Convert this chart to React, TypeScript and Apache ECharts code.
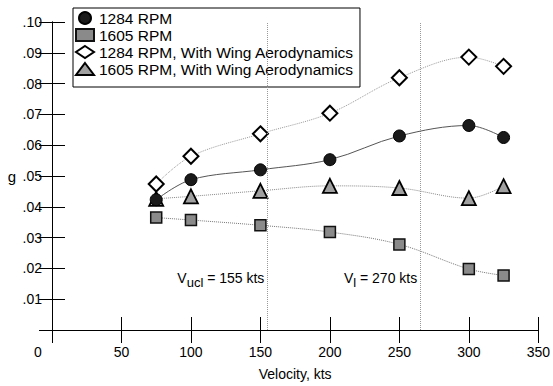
import React, { useEffect, useRef } from "react";
import * as echarts from "echarts";

const velocities = [75, 100, 150, 200, 250, 300, 325];
const rpm1284 = [0.0423, 0.0488, 0.052, 0.0553, 0.063, 0.0664, 0.0625];
const rpm1605 = [0.0365, 0.0357, 0.034, 0.0318, 0.0278, 0.0198, 0.0177];
const rpm1284Wing = [0.0474, 0.0564, 0.0637, 0.0704, 0.0819, 0.0886, 0.0856];
const rpm1605Wing = [0.0426, 0.0434, 0.0452, 0.0468, 0.0461, 0.0428, 0.0467];
const seriesNames = [
  "1284 RPM",
  "1605 RPM",
  "1284 RPM, With Wing Aerodynamics",
  "1605 RPM, With Wing Aerodynamics",
];
const refLines = [
  { x: 155, sub: "ucl", text: " = 155 kts" },
  { x: 265, sub: "l", text: " = 270 kts" },
];
const labelY = 0.0168;

const FONT = "'Liberation Sans', Arial, Helvetica, sans-serif";

export default function App() {
  const ref = useRef<HTMLDivElement>(null);
  useEffect(() => {
    if (!ref.current) return;
    const chart = echarts.init(ref.current, undefined, { renderer: "svg" });
    const pts = (arr: number[]) => velocities.map((v, i) => [v, arr[i]]);
    const axisLine = { show: true, lineStyle: { color: "#000", width: 1 } };
    const tick = { show: true, inside: true, length: 13, lineStyle: { color: "#000", width: 1 } };
    const option: any = {
      animation: false,
      backgroundColor: "#fff",
      textStyle: { fontFamily: FONT },
      grid: { left: 52, right: 12, top: 22, bottom: 54, containLabel: false },
      legend: {
        orient: "vertical",
        left: 73,
        top: 8,
        padding: [2, 6, 10, 2],
        itemGap: 1,
        itemWidth: 18,
        itemHeight: 12,
        backgroundColor: "#fff",
        borderColor: "#000",
        borderWidth: 1,
        borderRadius: 0,
        textStyle: { fontSize: 15.5, color: "#000", fontFamily: FONT, lineHeight: 16 },
        data: [
          { name: seriesNames[0], icon: "circle" },
          { name: seriesNames[1], icon: "rect" },
          { name: seriesNames[2], icon: "diamond" },
          { name: seriesNames[3], icon: "triangle" },
        ],
      },
      xAxis: [
        {
          type: "value",
          position: "bottom",
          min: 0,
          max: 350,
          interval: 50,
          axisLine,
          axisTick: tick,
          splitLine: { show: false },
          name: "Velocity, kts",
          nameLocation: "middle",
          nameGap: 37,
          nameTextStyle: { fontSize: 14, color: "#000", fontFamily: FONT },
          axisLabel: {
            fontSize: 14,
            color: "#000",
            fontFamily: FONT,
            margin: 15,
            formatter: (v: number) => (v === 0 ? "{z|0}" : String(v)),
            rich: { z: { fontSize: 14, color: "#000", fontFamily: FONT, padding: [0, 28, 0, 0] } },
          },
        },
        {
          type: "value",
          position: "top",
          min: 0,
          max: 350,
          interval: 50,
          axisLine,
          axisTick: tick,
          axisLabel: { show: false },
          splitLine: { show: false },
        },
      ],
      yAxis: [
        {
          type: "value",
          position: "left",
          min: 0,
          max: 0.1,
          interval: 0.01,
          axisLine,
          axisTick: tick,
          splitLine: { show: false },
          name: "g",
          nameLocation: "middle",
          nameRotate: 0,
          nameGap: 36,
          nameTextStyle: { fontSize: 15, color: "#000", fontFamily: FONT },
          axisLabel: {
            fontSize: 14,
            color: "#000",
            fontFamily: FONT,
            margin: 10,
            formatter: (v: number) => (v < 0.001 ? "" : "." + Math.round(v * 100).toString().padStart(2, "0")),
          },
        },
        {
          type: "value",
          position: "right",
          min: 0,
          max: 0.1,
          interval: 0.01,
          axisLine,
          axisTick: tick,
          axisLabel: { show: false },
          splitLine: { show: false },
        },
      ],
      series: [
        {
          name: seriesNames[0],
          type: "line",
          data: pts(rpm1284),
          smooth: 0.35,
          symbol: "circle",
          symbolSize: 12,
          itemStyle: { color: "#1a1a1a", borderColor: "#000", borderWidth: 1 },
          lineStyle: { color: "#555", width: 1, type: "solid" },
          z: 5,
        },
        {
          name: seriesNames[1],
          type: "line",
          data: pts(rpm1605),
          smooth: 0.35,
          symbol: "rect",
          symbolSize: 11,
          itemStyle: { color: "#8a8a8a", borderColor: "#111", borderWidth: 1.5 },
          lineStyle: { color: "#777", width: 1, type: "dotted" },
          z: 4,
          markLine: {
            silent: true,
            symbol: "none",
            label: { show: false },
            lineStyle: { color: "#999", width: 1, type: "dotted" },
            data: refLines.map((r) => ({ xAxis: r.x })),
          },
          markPoint: {
            silent: true,
            symbol: "circle",
            symbolSize: 0,
            itemStyle: { color: "transparent" },
            data: refLines.map((r) => ({
              coord: [r.x, labelY],
              label: {
                show: true,
                position: "left",
                distance: 3,
                formatter: "{v|V}{s|" + r.sub + "}{v|" + r.text + "}",
                rich: {
                  v: { fontSize: 14, color: "#000", fontFamily: FONT },
                  s: { fontSize: 13, color: "#000", fontFamily: FONT, padding: [8, 0, 0, 0] },
                },
              },
            })),
          },
        },
        {
          name: seriesNames[2],
          type: "line",
          data: pts(rpm1284Wing),
          smooth: 0.35,
          symbol: "diamond",
          symbolSize: 15,
          itemStyle: { color: "#fff", borderColor: "#000", borderWidth: 2 },
          lineStyle: { color: "#999", width: 1, type: "dotted" },
          z: 3,
        },
        {
          name: seriesNames[3],
          type: "line",
          data: pts(rpm1605Wing),
          smooth: 0.35,
          symbol: "triangle",
          symbolSize: 14,
          itemStyle: { color: "#a0a0a0", borderColor: "#000", borderWidth: 1.8 },
          lineStyle: { color: "#888", width: 1, type: "dotted" },
          z: 4,
        },
      ],
    };
    chart.setOption(option);
    return () => chart.dispose();
  }, []);
  return (
    <div
      ref={ref}
      style={{ position: "fixed", left: 0, top: 0, width: 553, height: 386, background: "#fff" }}
    />
  );
}
